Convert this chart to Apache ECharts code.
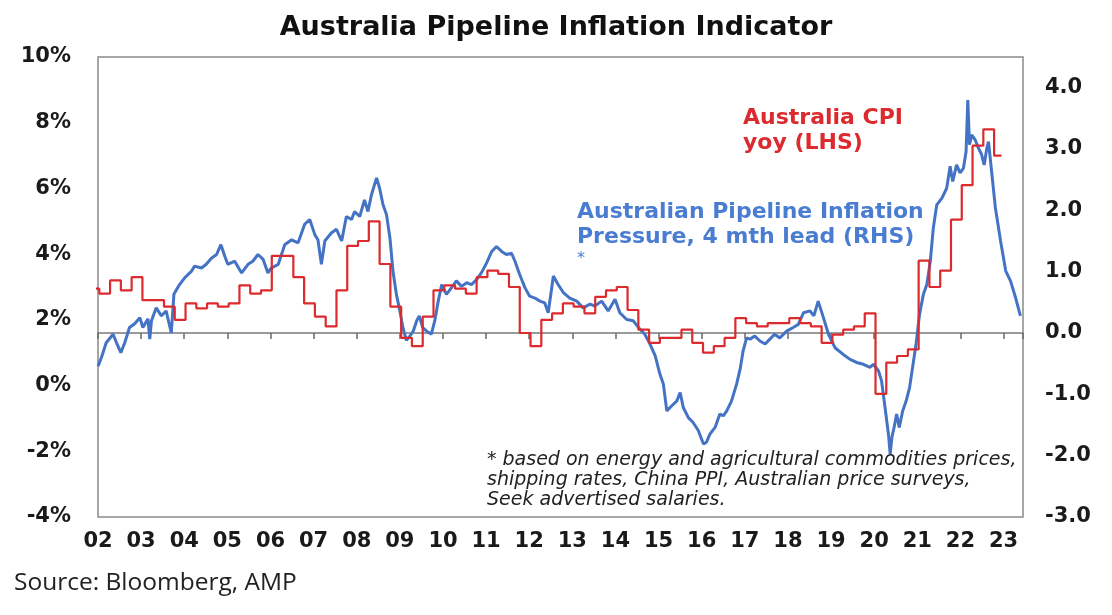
<!DOCTYPE html>
<html>
<head>
<meta charset="utf-8">
<title>Australia Pipeline Inflation Indicator</title>
<script src="https://cdn.jsdelivr.net/npm/echarts@6/dist/echarts.min.js"></script>
<style>
    html, body { margin: 0; padding: 0; background: #fff; }
    #chart { width: 1112px; height: 615px; }
</style>
</head>
<body>
<div id="chart"></div>
<script>
// Australia CPI yoy (%), quarterly from 2002 Q1, LHS
var cpiValues = [
    2.95, 2.8, 3.2, 2.9,    // 2002
    3.3, 2.6, 2.6, 2.4,     // 2003
    2.0, 2.5, 2.35, 2.5,    // 2004
    2.4, 2.5, 3.05, 2.8,    // 2005
    2.9, 3.95, 3.95, 3.3,   // 2006
    2.5, 2.1, 1.8, 2.9,     // 2007
    4.25, 4.4, 5.0, 3.7,    // 2008
    2.4, 1.45, 1.2, 2.1,    // 2009
    2.9, 3.05, 2.95, 2.8,   // 2010
    3.3, 3.5, 3.4, 3.0,     // 2011
    1.6, 1.2, 2.0, 2.2,     // 2012
    2.5, 2.4, 2.2, 2.7,     // 2013
    2.9, 3.0, 2.3, 1.7,     // 2014
    1.3, 1.45, 1.45, 1.7,   // 2015
    1.3, 1.0, 1.2, 1.45,    // 2016
    2.05, 1.9, 1.8, 1.9,    // 2017
    1.9, 2.05, 1.9, 1.8,    // 2018
    1.3, 1.55, 1.7, 1.8,    // 2019
    2.2, -0.25, 0.7, 0.9,   // 2020
    1.1, 3.8, 3.0, 3.5,     // 2021
    5.05, 6.1, 7.3, 7.8,    // 2022
    7.0                     // 2023
];

// Australian Pipeline Inflation Pressure, 4 mth lead, RHS
var pipeDates = [
    2002.00, 2002.08, 2002.19, 2002.35, 2002.43, 2002.53, 2002.62, 2002.73, 2002.85, 2002.97,
    2003.04, 2003.16, 2003.20, 2003.24, 2003.35, 2003.47, 2003.58, 2003.70, 2003.76, 2003.89,
    2004.01, 2004.17, 2004.24, 2004.40, 2004.51, 2004.63, 2004.75, 2004.85, 2004.94,
    2005.01, 2005.17, 2005.33, 2005.48, 2005.59, 2005.71, 2005.83, 2005.94,
    2006.02, 2006.18, 2006.33, 2006.49, 2006.64, 2006.79, 2006.91,
    2007.03, 2007.10, 2007.18, 2007.26, 2007.41, 2007.53, 2007.65, 2007.76, 2007.88, 2007.95,
    2008.07, 2008.18, 2008.26, 2008.34, 2008.46, 2008.53, 2008.61, 2008.69, 2008.77, 2008.84, 2008.92,
    2009.00, 2009.07, 2009.15, 2009.23, 2009.31, 2009.39, 2009.45, 2009.53, 2009.62, 2009.73, 2009.81, 2009.89, 2009.97,
    2010.08, 2010.20, 2010.31, 2010.43, 2010.55, 2010.66, 2010.78, 2010.89,
    2011.01, 2011.13, 2011.24, 2011.36, 2011.47, 2011.59, 2011.67, 2011.78, 2011.90,
    2012.01, 2012.13, 2012.25, 2012.36, 2012.44, 2012.56, 2012.67, 2012.79, 2012.94,
    2013.10, 2013.25, 2013.41, 2013.52, 2013.68, 2013.83, 2013.99,
    2014.10, 2014.26, 2014.41, 2014.57, 2014.68, 2014.80, 2014.92,
    2015.03, 2015.11, 2015.19, 2015.30, 2015.42, 2015.50, 2015.57, 2015.69, 2015.80, 2015.92,
    2016.04, 2016.11, 2016.19, 2016.31, 2016.42, 2016.50, 2016.58, 2016.69, 2016.81, 2016.89, 2016.96,
    2017.04, 2017.12, 2017.23, 2017.35, 2017.47, 2017.58, 2017.69, 2017.81, 2017.97,
    2018.12, 2018.24, 2018.36, 2018.51, 2018.60, 2018.70, 2018.80, 2018.94,
    2019.09, 2019.28, 2019.44, 2019.59, 2019.75, 2019.90, 2019.98,
    2020.10, 2020.17, 2020.25, 2020.33, 2020.37, 2020.41, 2020.46, 2020.52, 2020.58, 2020.66, 2020.74, 2020.82, 2020.89, 2020.97,
    2021.05, 2021.14, 2021.22, 2021.30, 2021.37, 2021.45, 2021.57, 2021.68, 2021.76, 2021.82, 2021.91, 2021.99,
    2022.07, 2022.13, 2022.17, 2022.21, 2022.26, 2022.34, 2022.42, 2022.49, 2022.55, 2022.61, 2022.65, 2022.73, 2022.81, 2022.93,
    2023.05, 2023.16, 2023.28, 2023.39
];
var pipeValues = [
    -0.54, -0.40, -0.16, -0.02, -0.16, -0.32, -0.16, 0.09, 0.15, 0.25,
    0.09, 0.23, -0.10, 0.20, 0.41, 0.28, 0.36, 0.00, 0.63, 0.79,
    0.90, 1.01, 1.09, 1.06, 1.12, 1.22, 1.28, 1.44, 1.25,
    1.12, 1.17, 0.98, 1.12, 1.17, 1.28, 1.20, 0.98,
    1.06, 1.12, 1.44, 1.52, 1.47, 1.77, 1.85,
    1.60, 1.52, 1.12, 1.50, 1.63, 1.69, 1.50, 1.90, 1.85, 1.98,
    1.90, 2.17, 1.98, 2.25, 2.53, 2.36, 2.09, 1.93, 1.55, 1.01, 0.63,
    0.36, 0.09, -0.12, -0.05, 0.03, 0.20, 0.28, 0.09, 0.03, -0.02, 0.20, 0.52, 0.79,
    0.63, 0.74, 0.85, 0.76, 0.82, 0.79, 0.87, 0.98,
    1.14, 1.33, 1.41, 1.33, 1.28, 1.30, 1.17, 0.95, 0.74,
    0.60, 0.57, 0.52, 0.49, 0.33, 0.93, 0.79, 0.66, 0.57,
    0.52, 0.41, 0.47, 0.44, 0.52, 0.36, 0.55,
    0.33, 0.22, 0.20, 0.06, -0.02, -0.18, -0.37,
    -0.67, -0.83, -1.27, -1.19, -1.11, -0.97, -1.21, -1.38, -1.46, -1.59,
    -1.81, -1.78, -1.65, -1.54, -1.32, -1.35, -1.27, -1.11, -0.83, -0.59, -0.29,
    -0.08, -0.10, -0.05, -0.13, -0.18, -0.10, -0.02, -0.08, 0.03,
    0.09, 0.14, 0.33, 0.36, 0.28, 0.52, 0.30, -0.02,
    -0.24, -0.35, -0.43, -0.48, -0.51, -0.56, -0.51,
    -0.62, -0.78, -1.21, -1.65, -1.97, -1.70, -1.54, -1.32, -1.54, -1.27, -1.11, -0.89, -0.56, -0.18,
    0.30, 0.63, 0.79, 1.17, 1.71, 2.09, 2.20, 2.36, 2.72, 2.47, 2.74, 2.61,
    2.69, 2.96, 3.80, 3.07, 3.23, 3.15, 3.01, 2.91, 2.74, 3.01, 3.12, 2.58, 2.04, 1.50,
    1.01, 0.85, 0.57, 0.28
];

var footnoteLines = [
    '* based on energy and agricultural commodities prices,',
    'shipping rates, China PPI, Australian price surveys,',
    'Seek advertised salaries.'
];

var RED = '#dc2a2e';
var BLUE = '#4472c4';
var AXIS_FONT = 'DejaVu Sans';

var pipeline = pipeDates.map(function (d, i) { return [d, pipeValues[i]]; });

// each quarter's CPI is drawn as a step that starts a quarter early on this chart
var cpiSteps = [];
for (var i = 0; i < cpiValues.length; i++) {
    var year = 2002 + Math.floor(i / 4), q = i % 4 + 1;
    cpiSteps.push([year + (q - 2) * 0.25 + 0.03, cpiValues[i]]);
}
cpiSteps.push([2022.95, cpiValues[cpiValues.length - 1]]);

function label(text, x, y, color, font, align) {
    return {
        type: 'text', x: x, y: y, silent: true,
        style: { text: text, fill: color, font: font, align: align || 'left', verticalAlign: 'middle' }
    };
}

var graphics = [
    label('Australia Pipeline Inflation Indicator', 556, 28, '#111', 'bold 27px "DejaVu Sans"', 'center'),
    label('Australia CPI', 743, 118, RED, 'bold 22px "DejaVu Sans"'),
    label('yoy (LHS)', 743, 143, RED, 'bold 22px "DejaVu Sans"'),
    label('Australian Pipeline Inflation', 577, 212, '#4a7dd2', 'bold 22px "DejaVu Sans"'),
    label('Pressure, 4 mth lead (RHS)', 577, 237, '#4a7dd2', 'bold 22px "DejaVu Sans"'),
    label('*', 577, 259, '#4a7dd2', '16px "DejaVu Sans"'),
    label('Source: Bloomberg, AMP', 14, 583, '#222', '24.5px "Open Sans"')
];
footnoteLines.forEach(function (t, k) {
    graphics.push(label(t, 487, 460 + k * 20, '#222', 'italic 19px "DejaVu Sans"'));
});

var chart = echarts.init(document.getElementById('chart'));
var option = {
    animation: false,
    backgroundColor: '#fff',
    grid: {
        left: 98, right: 89, top: 57, bottom: 98,
        show: true, borderColor: '#8a8a8a', borderWidth: 1.5
    },
    xAxis: [
        {
            // axis line drawn on RHS zero
            type: 'value', min: 2002, max: 2023.45, interval: 1,
            axisLine: { show: true, onZero: true, onZeroAxisIndex: 1, lineStyle: { color: '#7a7a7a', width: 1.5 } },
            axisTick: { show: true, length: 6, lineStyle: { color: '#6a6a6a', width: 1.5 } },
            axisLabel: { show: false },
            splitLine: { show: false }
        },
        {
            // year labels along the bottom
            type: 'value', min: 2002, max: 2023.45, interval: 1, position: 'bottom',
            axisLine: { show: false, onZero: false },
            axisTick: { show: false },
            splitLine: { show: false },
            axisLabel: {
                showMaxLabel: false, margin: 14,
                fontFamily: AXIS_FONT, fontWeight: 'bold', fontSize: 21, color: '#1a1a1a',
                formatter: function (v) { return String(Math.round(v)).slice(2); }
            }
        }
    ],
    yAxis: [
        {
            type: 'value', min: -4, max: 10, interval: 2, position: 'left',
            axisLine: { show: false }, axisTick: { show: false }, splitLine: { show: false },
            axisLabel: {
                margin: 27, fontFamily: AXIS_FONT, fontWeight: 'bold', fontSize: 21, color: '#1a1a1a',
                formatter: '{value}%'
            }
        },
        {
            type: 'value', min: -3, max: 4.5, interval: 1, position: 'right',
            axisLine: { show: false }, axisTick: { show: false }, splitLine: { show: false },
            axisLabel: {
                showMaxLabel: false, margin: 22,
                fontFamily: AXIS_FONT, fontWeight: 'bold', fontSize: 21, color: '#1a1a1a',
                formatter: function (v) { return v.toFixed(1); }
            }
        }
    ],
    series: [
        {
            name: 'Australian Pipeline Inflation Pressure',
            type: 'line', xAxisIndex: 0, yAxisIndex: 1,
            data: pipeline, showSymbol: false,
            lineStyle: { color: BLUE, width: 3 }
        },
        {
            name: 'Australia CPI yoy',
            type: 'line', step: 'end', xAxisIndex: 0, yAxisIndex: 0,
            data: cpiSteps, showSymbol: false,
            lineStyle: { color: RED, width: 2.2 }
        }
    ],
    graphic: graphics
};
chart.setOption(option);
</script>
</body>
</html>
